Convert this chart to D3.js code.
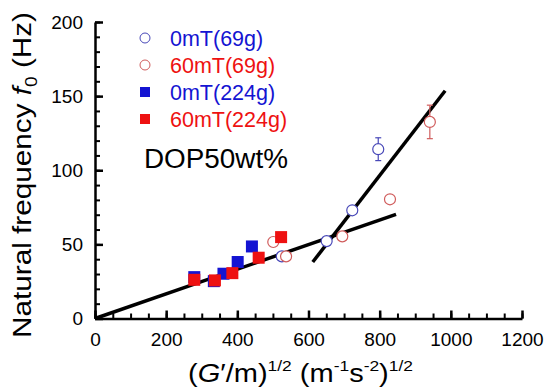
<!DOCTYPE html>
<html>
  <head>
    <script src="https://d3js.org/d3.v7.min.js"></script>
    <style>
      body { margin: 0; background: #fff; }
      text { font-family: Arial, "Liberation Sans", sans-serif; }
      .axis path, .axis line { fill: none; stroke: black; }
      .axis text { fill: black; font-size: 19px; }
    </style>
  </head>
  <body>
    <svg id="main" width="550" height="389"></svg>
    <script>

      // 0mT(69g), open blue circles
      var blueCircX = [525, 651, 723, 796];
      var blueCircY = [41.9, 52.2, 73, 114.2];
      var blueCircErr = [0, 0, 0, 7.7];
      // 60mT(69g), open red circles
      var redCircX = [501, 537, 695, 829, 941];
      var redCircY = [51.6, 41.9, 55.4, 80.4, 132.6];
      var redCircErr = [0, 0, 0, 0, 11.3];
      // 0mT(224g), blue squares
      var blueSqX = [279, 334, 361, 401, 441];
      var blueSqY = [27.9, 25.2, 30.2, 38.1, 48.6];
      // 60mT(224g), red squares
      var redSqX = [279, 337, 386, 460, 523];
      var redSqY = [26.1, 25.7, 30.6, 41, 54.9];

      // the two straight fits
      var fitLowX = [0, 846];
      var fitLowY = [0, 70.3];
      var fitHighX = [612, 984];
      var fitHighY = [38.1, 153.6];

      var xTicks = [0, 200, 400, 600, 800, 1000, 1200];
      var yTicks = [0, 50, 100, 150, 200];

      var legendNames = ['0mT(69g)', '60mT(69g)', '0mT(224g)', '60mT(224g)'];

      var BLUE = '#1414d2';
      var RED = '#ee1111';
      var BLUE_RING = '#4848b8';
      var RED_RING = '#d05c5c';

      var svg = d3.select('#main');

      var x = d3.scaleLinear().domain([0, 1200]).range([95, 522]);
      var y = d3.scaleLinear().domain([0, 200]).range([318.5, 22]);

      function zip(a, b, e) {
        return a.map(function(d, i) { return {x: d, y: b[i], e: e ? e[i] : 0}; });
      }

      // minor ticks
      svg.append('g')
        .attr('class', 'axis')
        .attr('transform', 'translate(' + x(0) + ',0)')
        .call(d3.axisLeft(y).tickValues(d3.range(0, 201, 10)).tickSize(-5).tickSizeOuter(0).tickFormat(''))
        .call(function(g) { g.selectAll('line').attr('stroke-width', 2); g.select('.domain').remove(); });

      svg.append('g')
        .attr('class', 'axis')
        .attr('transform', 'translate(0,' + y(0) + ')')
        .call(d3.axisBottom(x).tickValues(d3.range(0, 1201, 50)).tickSize(-5).tickSizeOuter(0).tickFormat(''))
        .call(function(g) { g.selectAll('line').attr('stroke-width', 2); g.select('.domain').remove(); });

      // major ticks + labels
      svg.append('g')
        .attr('class', 'axis')
        .attr('transform', 'translate(' + x(0) + ',0)')
        .call(d3.axisLeft(y).tickValues(yTicks).tickSize(-8).tickSizeOuter(0).tickPadding(12).tickFormat(d3.format('d')))
        .call(function(g) {
          g.selectAll('line').attr('stroke-width', 2.5);
          g.select('.domain').attr('stroke-width', 2.5);
        });

      svg.append('g')
        .attr('class', 'axis')
        .attr('transform', 'translate(0,' + y(0) + ')')
        .call(d3.axisBottom(x).tickValues(xTicks).tickSize(-8).tickSizeOuter(0).tickPadding(14).tickFormat(d3.format('d')))
        .call(function(g) {
          g.selectAll('line').attr('stroke-width', 2.5);
          g.select('.domain').attr('stroke-width', 2.5);
        });

      // fit lines
      var line = d3.line().x(function(d) { return x(d.x); }).y(function(d) { return y(d.y); });
      [zip(fitLowX, fitLowY), zip(fitHighX, fitHighY)].forEach(function(pts) {
        svg.append('path')
          .datum(pts)
          .attr('d', line)
          .attr('fill', 'none')
          .attr('stroke', 'black')
          .attr('stroke-width', 3.5);
      });

      // error bars
      function errorBars(data, color) {
        var g = svg.append('g').attr('stroke', color).attr('stroke-width', 1.2);
        data.filter(function(d) { return d.e > 0; }).forEach(function(d) {
          g.append('line').attr('x1', x(d.x)).attr('x2', x(d.x)).attr('y1', y(d.y - d.e)).attr('y2', y(d.y + d.e));
          g.append('line').attr('x1', x(d.x) - 3).attr('x2', x(d.x) + 3).attr('y1', y(d.y - d.e)).attr('y2', y(d.y - d.e));
          g.append('line').attr('x1', x(d.x) - 3).attr('x2', x(d.x) + 3).attr('y1', y(d.y + d.e)).attr('y2', y(d.y + d.e));
        });
      }
      var blueCirc = zip(blueCircX, blueCircY, blueCircErr);
      var redCirc = zip(redCircX, redCircY, redCircErr);
      errorBars(blueCirc, BLUE_RING);
      errorBars(redCirc, RED_RING);

      function circles(data, color) {
        svg.append('g').selectAll('circle')
          .data(data)
          .enter()
          .append('circle')
          .attr('cx', function(d) { return x(d.x); })
          .attr('cy', function(d) { return y(d.y); })
          .attr('r', 5.5)
          .attr('fill', 'white')
          .attr('stroke', color)
          .attr('stroke-width', 1.2);
      }

      function squares(data, color) {
        svg.append('g').selectAll('rect')
          .data(data)
          .enter()
          .append('rect')
          .attr('x', function(d) { return x(d.x) - 6; })
          .attr('y', function(d) { return y(d.y) - 6; })
          .attr('width', 12)
          .attr('height', 12)
          .attr('fill', color);
      }

      circles(blueCirc, BLUE_RING);
      circles(redCirc, RED_RING);
      squares(zip(blueSqX, blueSqY), BLUE);
      squares(zip(redSqX, redSqY), RED);

      // legend
      var legendColors = [BLUE, RED, BLUE, RED];
      var leg = svg.append('g');
      legendNames.forEach(function(name, i) {
        var cy = 38 + i * 27;
        if (i < 2) {
          leg.append('circle').attr('cx', 145).attr('cy', cy).attr('r', 5)
            .attr('fill', 'white').attr('stroke', i == 0 ? BLUE_RING : RED_RING).attr('stroke-width', 1);
        } else {
          leg.append('rect').attr('x', 140).attr('y', cy - 5).attr('width', 10).attr('height', 10)
            .attr('fill', legendColors[i]);
        }
        leg.append('text').attr('x', 170).attr('y', cy + 7.5)
          .style('font-size', '21.5px').attr('fill', legendColors[i]).text(name);
      });

      svg.append('text').attr('x', 144).attr('y', 168)
        .style('font-size', '27px').attr('textLength', 144).attr('lengthAdjust', 'spacingAndGlyphs')
        .text('DOP50wt%');

      // axis titles
      var xt = svg.append('text').attr('x', 188).attr('y', 382)
        .style('font-size', '25px').attr('textLength', 225).attr('lengthAdjust', 'spacingAndGlyphs');
      xt.append('tspan').text('(');
      xt.append('tspan').style('font-style', 'italic').text('G');
      xt.append('tspan').text('\u2032/m)');
      xt.append('tspan').attr('dy', -11).style('font-size', '15px').text('1/2');
      xt.append('tspan').attr('dy', 11).text(' (m');
      xt.append('tspan').attr('dy', -11).style('font-size', '15px').text('-1');
      xt.append('tspan').attr('dy', 11).text('s');
      xt.append('tspan').attr('dy', -11).style('font-size', '15px').text('-2');
      xt.append('tspan').attr('dy', 11).text(')');
      xt.append('tspan').attr('dy', -11).style('font-size', '15px').text('1/2');

      var yt = svg.append('text')
        .attr('transform', 'translate(31,338) rotate(-90)')
        .style('font-size', '25px').attr('textLength', 326).attr('lengthAdjust', 'spacingAndGlyphs');
      yt.append('tspan').text('Natural frequency ');
      yt.append('tspan').style('font-style', 'italic').text('f');
      yt.append('tspan').attr('dy', 6).style('font-size', '16px').text('0');
      yt.append('tspan').attr('dy', -6).text(' (Hz)');

    </script>
  </body>
</html>
